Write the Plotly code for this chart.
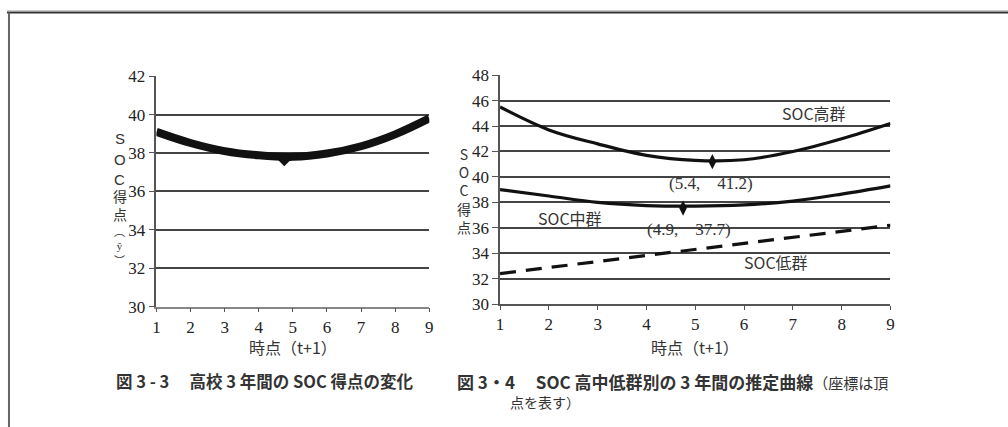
import plotly.graph_objects as go

# ---- data ----
t_points = [1, 2, 3, 4, 5, 6, 7, 8, 9]
x_ticks = [1, 2, 3, 4, 5, 6, 7, 8, 9]

# Fig 3-3: overall SOC score
soc_all = [39.1, 38.52, 38.1, 37.88, 37.8, 37.97, 38.35, 38.97, 39.8]
vertex_all_x = [4.75]
vertex_all_y = [37.65]

# Fig 3-4: SOC high / middle / low groups
soc_high = [45.5, 43.7, 42.6, 41.7, 41.3, 41.35, 42.0, 43.0, 44.2]
soc_mid = [39.0, 38.5, 38.0, 37.75, 37.7, 37.8, 38.1, 38.65, 39.3]
low_x = [1, 9]
soc_low = [32.4, 36.2]
vertex_high = (5.35, 41.2)
vertex_mid = (4.75, 37.55)

left_yticks = [30, 32, 34, 36, 38, 40, 42]
right_yticks = [30, 32, 34, 36, 38, 40, 42, 44, 46, 48]

W, H = 1008, 427
# screen-pixel -> paper coordinate (with empirical display correction)
def px(x):
    return (x / 0.996) / W
def py(y):
    return 1 - ((y - 8) / 0.96) / H

fig = go.Figure()
fig.add_trace(go.Scatter(x=t_points, y=soc_all, mode="lines", line=dict(color="#111", width=8, shape="spline"),
                         xaxis="x", yaxis="y", showlegend=False))
fig.add_trace(go.Scatter(x=vertex_all_x, y=vertex_all_y, mode="markers",
                         marker=dict(symbol="diamond", size=10, color="#111"),
                         xaxis="x", yaxis="y", showlegend=False))
fig.add_trace(go.Scatter(x=t_points, y=soc_high, mode="lines", line=dict(color="#111", width=3.2, shape="spline"),
                         xaxis="x2", yaxis="y2", showlegend=False))
fig.add_trace(go.Scatter(x=t_points, y=soc_mid, mode="lines", line=dict(color="#111", width=3.2, shape="spline"),
                         xaxis="x2", yaxis="y2", showlegend=False))
fig.add_trace(go.Scatter(x=low_x, y=soc_low, mode="lines", line=dict(color="#111", width=3.2, dash="16px,10px"),
                         xaxis="x2", yaxis="y2", showlegend=False))
fig.add_trace(go.Scatter(x=[vertex_high[0], vertex_mid[0]], y=[vertex_high[1], vertex_mid[1]], mode="markers",
                         marker=dict(symbol="diamond-tall", size=11, color="#111"),
                         xaxis="x2", yaxis="y2", showlegend=False))

tickfont = dict(family="Liberation Serif", size=17, color="#222")
common_x = dict(range=[1, 9], tickvals=x_ticks, showgrid=False, zeroline=False, showline=True,
                linewidth=1.5, ticks="outside", ticklen=4, tickcolor="#555",
                tickfont=tickfont, fixedrange=True)
common_y = dict(showgrid=True, gridcolor="#444", gridwidth=1.5, zeroline=False, showline=True,
                linecolor="#555", linewidth=1.5, ticks="outside", ticklen=6, tickcolor="#555",
                tickfont=tickfont, fixedrange=True)

fig.update_layout(
    width=W, height=H, margin=dict(l=0, r=0, t=0, b=0),
    paper_bgcolor="white", plot_bgcolor="white", showlegend=False,
    xaxis=dict(domain=[px(153), px(427)], anchor="y", linecolor="#888", **common_x),
    yaxis=dict(domain=[py(307), py(75.5)], anchor="x", range=[30, 42], tickvals=left_yticks, **common_y),
    xaxis2=dict(domain=[px(498), px(890)], anchor="y2", linecolor="#555", **common_x),
    yaxis2=dict(domain=[py(304.5), py(74.5)], anchor="x2", range=[30, 48], tickvals=right_yticks, **common_y),
)

# outer frame lines
fig.add_shape(type="line", xref="paper", yref="paper", x0=px(3), x1=1.01, y0=py(9.5), y1=py(9.5),
              line=dict(color="#ccc", width=1))
fig.add_shape(type="line", xref="paper", yref="paper", x0=px(3), x1=1.01, y0=py(11.5), y1=py(11.5),
              line=dict(color="#333", width=2))
fig.add_shape(type="line", xref="paper", yref="paper", x0=px(5), x1=px(5), y0=py(11.5), y1=-0.04,
              line=dict(color="#666", width=2))

cjk = "Noto Sans CJK JP"
ann = []
def txt(s, x, y, size, family=cjk, xanchor="center", color="#333"):
    ann.append(dict(text=s, x=px(x), y=py(y), xref="paper", yref="paper", showarrow=False,
                    xanchor=xanchor, yanchor="middle", font=dict(family=family, size=size, color=color)))

# y-axis titles, stacked characters
for ch, yy in [("S", 138), ("O", 159), ("C", 179)]:
    txt(ch, 116, yy, 15, family="Liberation Sans")
for ch, yy in [("得", 196), ("点", 214)]:
    txt(ch, 116, yy, 14)
txt("︵<br>ŷ<br>︶", 116, 246, 11)
txt("S<br>O<br>C<br>得<br>点", 462, 190, 14)

# x-axis titles
txt("時点（t+1）", 290, 348, 16)
txt("時点（t+1）", 694, 348, 16)

# captions
txt("<b>図 3 - 3　 高校 3 年間の SOC 得点の変化</b>", 110, 382, 16.5, xanchor="left")
ann.append(dict(text="<b>図 3・4　 SOC 高中低群別の 3 年間の推定曲線</b><span style='font-size:15px'>（座標は頂</span>",
                x=px(453), y=py(382), xref="paper", yref="paper", showarrow=False,
                xanchor="left", yanchor="middle", font=dict(family=cjk, size=17, color="#333")))
txt("点を表す）", 506, 403, 14, xanchor="left")

# in-plot labels (data coordinates)
lab = dict(family=cjk, size=16, color="#333")
ann.append(dict(text="SOC高群", x=7.43, y=45.0, xref="x2", yref="y2", showarrow=False, font=lab))
ann.append(dict(text="SOC中群", x=2.43, y=36.77, xref="x2", yref="y2", showarrow=False, font=lab))
ann.append(dict(text="SOC低群", x=6.65, y=33.3, xref="x2", yref="y2", showarrow=False, font=lab))
num = dict(family="Liberation Serif", size=17, color="#333")
ann.append(dict(text="(5.4,　41.2)", x=5.33, y=39.5, xref="x2", yref="y2", showarrow=False, font=num))
ann.append(dict(text="(4.9,　37.7)", x=4.88, y=35.83, xref="x2", yref="y2", showarrow=False, font=num))

fig.update_layout(annotations=ann)
fig.write_html("out.html", config={"displayModeBar": False},
               post_script="document.body.style.margin='0';document.body.style.overflow='hidden';")
